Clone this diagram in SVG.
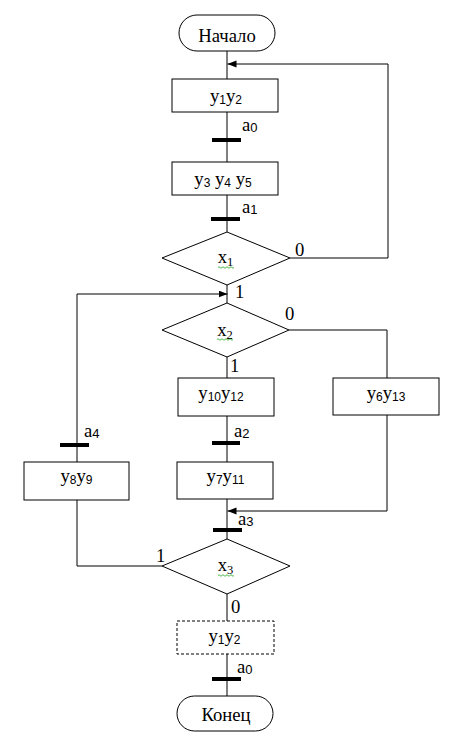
<svg xmlns="http://www.w3.org/2000/svg" width="462" height="745" viewBox="0 0 462 745">
<defs>
<style>
.t{font-family:"Liberation Serif","Times New Roman",serif;font-size:18.7px;fill:#000}
.c{text-anchor:middle}
.s{font-family:"Liberation Sans",Arial,sans-serif;font-size:12px}
.as{font-family:"Liberation Sans",Arial,sans-serif;font-size:13px}
.xs{font-size:12.5px}
.box{fill:#fff;stroke:#000;stroke-width:1}
.dash{stroke-dasharray:3 2}
.ln{fill:none;stroke:#000;stroke-width:1}
.bar{stroke:#000;stroke-width:4}
.wav{fill:none;stroke:#2a2;stroke-width:0.8}
</style>
<marker id="ah" markerWidth="10" markerHeight="8" refX="9" refY="3.5" orient="auto" markerUnits="userSpaceOnUse">
<path d="M0,0 L9,3.5 L0,7 z" fill="#000"/>
</marker>
</defs>
<rect width="462" height="745" fill="#fff"/>

<g id="connectors">
<path class="ln" d="M227,51 V79"/>
<path class="ln" d="M227,112 V162"/>
<path class="ln" d="M227,195 V232"/>
<path class="ln" d="M290,258 H388 V64 H227.5" marker-end="url(#ah)"/>
<path class="ln" d="M227,285 V303"/>
<path class="ln" d="M77,462 V294 H227.5" marker-end="url(#ah)"/>
<path class="ln" d="M289,330 H387 V378"/>
<path class="ln" d="M227,357 V378"/>
<path class="ln" d="M227,416 V462"/>
<path class="ln" d="M387,415 V511 H227.5" marker-end="url(#ah)"/>
<path class="ln" d="M227,499 V539"/>
<path class="ln" d="M77,500 V566 H162"/>
<path class="ln" d="M227,594 V621"/>
<path class="ln" d="M227,654 V696"/>
<line class="bar" x1="212" y1="140" x2="241" y2="140"/>
<line class="bar" x1="211" y1="219" x2="240" y2="219"/>
<line class="bar" x1="212" y1="443" x2="240" y2="443"/>
<line class="bar" x1="60" y1="445" x2="89" y2="445"/>
<line class="bar" x1="213" y1="530" x2="242" y2="530"/>
<line class="bar" x1="212" y1="679" x2="241" y2="679"/>
<text class="t" x="242" y="131">a<tspan class="as" dy="1">0</tspan></text>
<text class="t" x="242" y="213">a<tspan class="as" dy="1">1</tspan></text>
<text class="t" x="234" y="437">a<tspan class="as" dy="1">2</tspan></text>
<text class="t" x="84" y="437">a<tspan class="as" dy="1">4</tspan></text>
<text class="t" x="238" y="525">a<tspan class="as" dy="1">3</tspan></text>
<text class="t" x="237" y="673">a<tspan class="as" dy="1">0</tspan></text>
<text class="t" x="295" y="256">0</text>
<text class="t" x="235" y="298">1</text>
<text class="t" x="285" y="320">0</text>
<text class="t" x="230" y="372">1</text>
<text class="t" x="156" y="562">1</text>
<text class="t" x="231" y="613">0</text>
</g>

<g id="start">
<rect class="box" x="179" y="15" width="96" height="36" rx="18"/>
<text class="t c" x="227" y="41.5">Начало</text>
</g>

<g id="op-y1y2">
<rect class="box" x="172" y="79" width="106" height="33"/>
<text class="t c" x="226" y="101.5">y<tspan class="s" dy="2">1</tspan><tspan dy="-2">y</tspan><tspan class="s" dy="2">2</tspan></text>
</g>

<g id="op-y3y4y5">
<rect class="box" x="172" y="162" width="106" height="33"/>
<text class="t c" x="223" y="184.5">y<tspan class="s" dy="2">3</tspan><tspan dy="-2"> y</tspan><tspan class="s" dy="2">4</tspan><tspan dy="-2"> y</tspan><tspan class="s" dy="2">5</tspan></text>
</g>

<g id="cond-x1">
<polygon class="box" points="227,232 290,258 227,285 162,258"/>
<text class="t c" x="225.5" y="263">x<tspan class="xs" dy="3">1</tspan></text>
<path class="wav" d="M218,267.5 q1,-1.5 2,0 t2,0 t2,0 t2,0 t2,0 t2,0 t2,0 t2,0"/>
</g>

<g id="cond-x2">
<polygon class="box" points="227,303 289,330 227,357 162,330"/>
<text class="t c" x="225" y="335.5">x<tspan class="xs" dy="3">2</tspan></text>
<path class="wav" d="M217,339.5 q1,-1.5 2,0 t2,0 t2,0 t2,0 t2,0 t2,0 t2,0 t2,0"/>
</g>

<g id="op-y10y12">
<rect class="box" x="178" y="378" width="96" height="38"/>
<text class="t c" x="221" y="398.5">y<tspan class="s" dy="2">10</tspan><tspan dy="-2">y</tspan><tspan class="s" dy="2">12</tspan></text>
</g>

<g id="op-y6y13">
<rect class="box" x="333" y="378" width="106" height="37"/>
<text class="t c" x="386" y="398.5">y<tspan class="s" dy="2">6</tspan><tspan dy="-2">y</tspan><tspan class="s" dy="2">13</tspan></text>
</g>

<g id="op-y7y11">
<rect class="box" x="177" y="462" width="96" height="37"/>
<text class="t c" x="225.5" y="481.5">y<tspan class="s" dy="2">7</tspan><tspan dy="-2">y</tspan><tspan class="s" dy="2">11</tspan></text>
</g>

<g id="op-y8y9">
<rect class="box" x="24" y="462" width="105" height="38"/>
<text class="t c" x="76.5" y="481.5">y<tspan class="s" dy="2">8</tspan><tspan dy="-2">y</tspan><tspan class="s" dy="2">9</tspan></text>
</g>

<g id="cond-x3">
<polygon class="box" points="227,539 290,566 227,594 162,566"/>
<text class="t c" x="225.5" y="571">x<tspan class="xs" dy="3">3</tspan></text>
<path class="wav" d="M218,575.5 q1,-1.5 2,0 t2,0 t2,0 t2,0 t2,0 t2,0 t2,0 t2,0"/>
</g>

<g id="op-y1y2-end">
<rect class="box dash" x="177" y="621" width="97" height="33"/>
<text class="t c" x="224.5" y="642">y<tspan class="s" dy="2">1</tspan><tspan dy="-2">y</tspan><tspan class="s" dy="2">2</tspan></text>
</g>

<g id="end">
<rect class="box" x="177" y="696" width="96" height="35" rx="17.5"/>
<text class="t c" x="226" y="721">Конец</text>
</g>
</svg>
